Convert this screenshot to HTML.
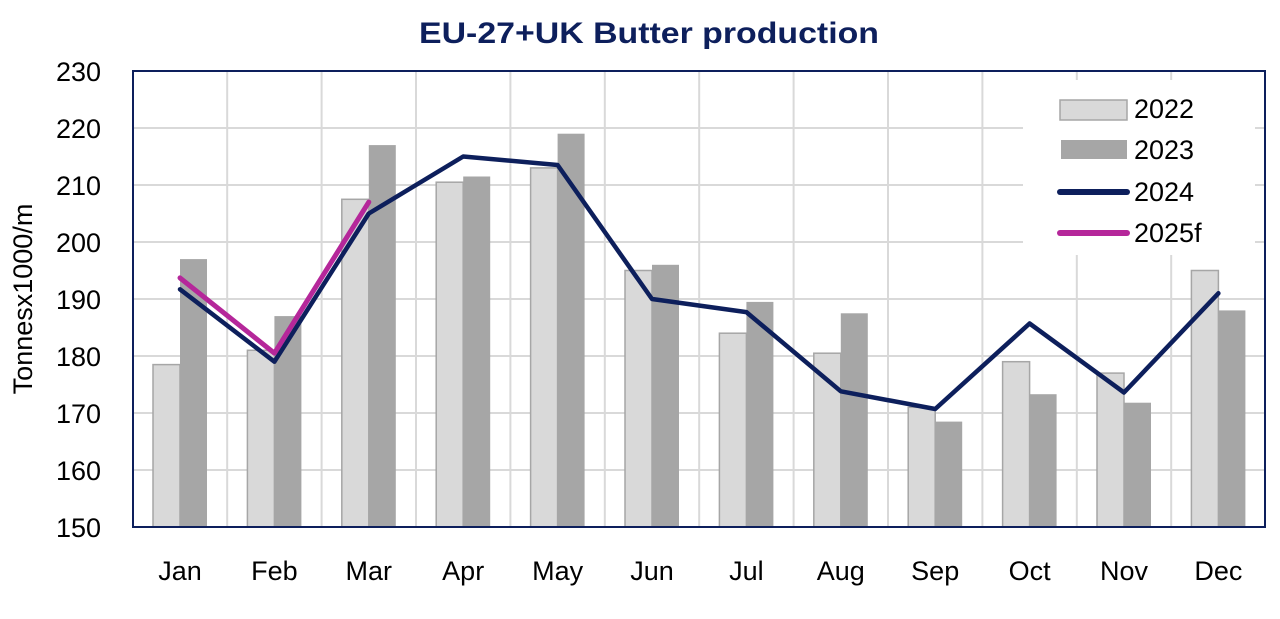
<!DOCTYPE html><html><head><meta charset="utf-8"><style>body{margin:0;background:#fff}svg{display:block}text{font-family:"Liberation Sans",Arial,sans-serif}</style></head><body>
<svg width="1280" height="619" viewBox="0 0 1280 619">
<text x="649" y="43" text-anchor="middle" font-size="30" font-weight="bold" fill="#0d1f5c" textLength="460" lengthAdjust="spacingAndGlyphs">EU-27+UK Butter production</text>
<g stroke="#d9d9d9" stroke-width="2">
<line x1="133" x2="1265" y1="128" y2="128"/><line x1="133" x2="1265" y1="185" y2="185"/><line x1="133" x2="1265" y1="242" y2="242"/><line x1="133" x2="1265" y1="299" y2="299"/><line x1="133" x2="1265" y1="356" y2="356"/><line x1="133" x2="1265" y1="413" y2="413"/><line x1="133" x2="1265" y1="470" y2="470"/>
<line x1="227.2" x2="227.2" y1="71" y2="527"/><line x1="321.6" x2="321.6" y1="71" y2="527"/><line x1="416" x2="416" y1="71" y2="527"/><line x1="510.4" x2="510.4" y1="71" y2="527"/><line x1="604.8" x2="604.8" y1="71" y2="527"/><line x1="699.2" x2="699.2" y1="71" y2="527"/><line x1="793.6" x2="793.6" y1="71" y2="527"/><line x1="888" x2="888" y1="71" y2="527"/><line x1="982.4" x2="982.4" y1="71" y2="527"/><line x1="1076.8" x2="1076.8" y1="71" y2="527"/><line x1="1171.2" x2="1171.2" y1="71" y2="527"/>
</g>
<rect x="1023" y="80" width="232" height="175" fill="#fff"/>
<g fill="#d9d9d9" stroke="#a6a6a6" stroke-width="1.5">
<rect x="153" y="364.6" width="27" height="162.4"/><rect x="247.4" y="350.3" width="27" height="176.7"/><rect x="341.8" y="199.3" width="27" height="327.7"/><rect x="436.2" y="182.2" width="27" height="344.8"/><rect x="530.6" y="167.9" width="27" height="359.1"/><rect x="625" y="270.5" width="27" height="256.5"/><rect x="719.4" y="333.2" width="27" height="193.8"/><rect x="813.8" y="353.2" width="27" height="173.8"/><rect x="908.2" y="407.3" width="27" height="119.7"/><rect x="1002.6" y="361.7" width="27" height="165.3"/><rect x="1097" y="373.1" width="27" height="153.9"/><rect x="1191.4" y="270.5" width="27" height="256.5"/>
</g>
<g fill="#a6a6a6">
<rect x="180" y="259.1" width="27" height="267.9"/><rect x="274.4" y="316.1" width="27" height="210.9"/><rect x="368.8" y="145.1" width="27" height="381.9"/><rect x="463.2" y="176.5" width="27" height="350.5"/><rect x="557.6" y="133.7" width="27" height="393.3"/><rect x="652" y="264.8" width="27" height="262.2"/><rect x="746.4" y="301.9" width="27" height="225.1"/><rect x="840.8" y="313.3" width="27" height="213.7"/><rect x="935.2" y="421.6" width="27" height="105.4"/><rect x="1029.6" y="394.2" width="27" height="132.8"/><rect x="1124" y="402.7" width="27" height="124.3"/><rect x="1218.4" y="310.4" width="27" height="216.6"/>
</g>
<polyline fill="none" stroke="#0d1f5c" stroke-width="4.5" stroke-linejoin="round" stroke-linecap="round" points="180,289.3 274.4,361.7 368.8,213.5 463.2,156.5 557.6,165 652,299 746.4,312.1 840.8,391.3 935.2,409 1029.6,323.5 1124,392.5 1218.4,293.3"/>
<polyline fill="none" stroke="#b5279a" stroke-width="5" stroke-linejoin="round" stroke-linecap="round" points="180,277.9 274.4,353.2 368.8,202.1"/>
<rect x="133" y="71" width="1132" height="456" fill="none" stroke="#0d1f5c" stroke-width="2"/>
<g font-size="27" text-anchor="end" fill="#000">
<text x="101" y="81">230</text><text x="101" y="138">220</text><text x="101" y="195">210</text><text x="101" y="252">200</text><text x="101" y="309">190</text><text x="101" y="366">180</text><text x="101" y="423">170</text><text x="101" y="480">160</text><text x="101" y="537">150</text>
</g>
<text transform="translate(32,299) rotate(-90)" font-size="27" text-anchor="middle">Tonnesx1000/m</text>
<g font-size="27" text-anchor="middle">
<text x="180" y="580">Jan</text><text x="274.4" y="580">Feb</text><text x="368.8" y="580">Mar</text><text x="463.2" y="580">Apr</text><text x="557.6" y="580">May</text><text x="652" y="580">Jun</text><text x="746.4" y="580">Jul</text><text x="840.8" y="580">Aug</text><text x="935.2" y="580">Sep</text><text x="1029.6" y="580">Oct</text><text x="1124" y="580">Nov</text><text x="1218.4" y="580">Dec</text>
</g>
<rect x="1060" y="100" width="67" height="20" fill="#d9d9d9" stroke="#a6a6a6" stroke-width="1.5"/>
<rect x="1061" y="140" width="66" height="19" fill="#a6a6a6"/>
<line x1="1060" x2="1127" y1="192" y2="192" stroke="#0d1f5c" stroke-width="6" stroke-linecap="round"/>
<line x1="1060" x2="1127" y1="233" y2="233" stroke="#b5279a" stroke-width="6" stroke-linecap="round"/>
<g font-size="27"><text x="1134" y="118">2022</text><text x="1134" y="159">2023</text><text x="1134" y="201">2024</text><text x="1134" y="242">2025f</text></g>
</svg></body></html>
